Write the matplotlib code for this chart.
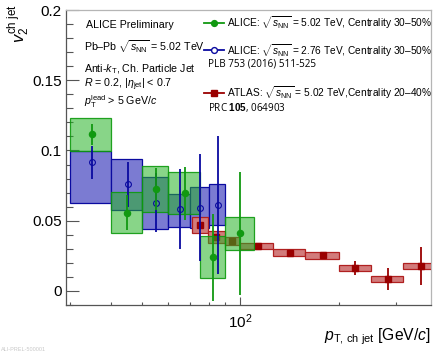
import numpy as np
import matplotlib
matplotlib.use("Agg")
import matplotlib.pyplot as plt
from matplotlib.ticker import FixedLocator, NullFormatter, FixedFormatter

plt.rcParams['font.family'] = ['Liberation Sans', 'DejaVu Sans']
plt.rcParams['mathtext.fontset'] = 'custom'
plt.rcParams['mathtext.rm'] = 'Liberation Sans'
plt.rcParams['mathtext.it'] = 'Liberation Sans:italic'
plt.rcParams['mathtext.bf'] = 'Liberation Sans:bold'

# ALICE 5.02 TeV, 30-50% (green, full circles)
a5_lo = [30, 40, 50, 60, 75, 90]
a5_hi = [40, 50, 60, 75, 90, 110]
a5_pt = [35, 45, 55, 67.5, 82.5, 100]
a5_v2 = [0.1114, 0.0557, 0.0727, 0.0695, 0.0240, 0.0410]
a5_stat = [0.0075, 0.0125, 0.0150, 0.0190, 0.0310, 0.0440]
a5_sys = [0.0115, 0.0144, 0.0163, 0.0150, 0.0148, 0.0118]

# ALICE 2.76 TeV, 30-50% (blue, open circles)
a2_lo = [30, 40, 50, 60, 70, 80]
a2_hi = [40, 50, 60, 70, 80, 90]
a2_pt = [35, 45.3, 55.1, 65.2, 75, 85.2]
a2_v2 = [0.0915, 0.0759, 0.0628, 0.0581, 0.0592, 0.0611]
a2_stat = [0.0116, 0.0160, 0.0210, 0.0285, 0.0380, 0.0490]
a2_sys_dn = [0.0291, 0.0183, 0.0189, 0.0126, 0.0146, 0.0142]
a2_sys_up = [0.0080, 0.0177, 0.0185, 0.0106, 0.0150, 0.0150]

# ATLAS 5.02 TeV, 20-40% (red, squares)
at_lo = [71, 79.5, 89.5, 100, 126, 158, 200, 251, 316]
at_hi = [79.5, 89.5, 100, 126, 158, 200, 251, 316, 398]
at_pt = [75.1, 84.4, 94.5, 113, 142, 179, 225, 283, 358]
at_v2 = [0.0469, 0.0386, 0.0358, 0.0322, 0.0272, 0.0254, 0.0166, 0.0085, 0.0176]
at_stat = [0.0015, 0.0015, 0.0015, 0.0012, 0.0012, 0.0012, 0.0050, 0.0075, 0.0136]
at_sys = [0.0055, 0.0043, 0.0029, 0.0021, 0.0024, 0.0024, 0.0022, 0.0021, 0.0021]

green = '#119911'
blue = '#0a0aa0'
red = '#9a0000'

fig = plt.figure(figsize=(4.33, 3.53), dpi=100)
ax = fig.add_axes([66/433, 48/353, 364.7/433, 295/353])
ax.set_xscale('log')

def arr(a):
    return np.asarray(a, dtype=float)

# blue sys boxes
ax.bar(arr(a2_lo), arr(a2_sys_dn) + arr(a2_sys_up), width=arr(a2_hi) - arr(a2_lo),
       bottom=arr(a2_v2) - arr(a2_sys_dn), align='edge',
       facecolor='#7b7bd2', edgecolor=blue, linewidth=0.9, zorder=2)

# red sys boxes + markers
ax.bar(arr(at_lo), 2 * arr(at_sys), width=arr(at_hi) - arr(at_lo),
       bottom=arr(at_v2) - arr(at_sys), align='edge',
       facecolor='#d27b7b', edgecolor='#b02020', linewidth=0.9, zorder=3)
ax.errorbar(at_pt, at_v2, yerr=at_stat, fmt='s', color=red, ms=4.2,
            elinewidth=1.3, capsize=0, zorder=4)

# green sys boxes (semi transparent)
ax.bar(arr(a5_lo), 2 * arr(a5_sys), width=arr(a5_hi) - arr(a5_lo),
       bottom=arr(a5_v2) - arr(a5_sys), align='edge',
       facecolor=(0.15, 0.70, 0.15, 0.55), edgecolor=(0.05, 0.6, 0.05, 0.9),
       linewidth=0.9, zorder=5)

ax.errorbar(a2_pt, a2_v2, yerr=a2_stat, fmt='o', color=blue, mfc='none',
            mec=blue, ms=4.2, mew=0.8, elinewidth=1.3, capsize=0, zorder=6)
ax.errorbar(a5_pt, a5_v2, yerr=a5_stat, fmt='o', color=green, ms=4.4,
            elinewidth=1.3, capsize=0, zorder=7)

ax.set_xlim(29.2, 383)
ax.set_ylim(-0.01, 0.2)

ax.xaxis.set_major_locator(FixedLocator([100]))
ax.xaxis.set_major_formatter(FixedFormatter([r'$10^{2}$']))
ax.xaxis.set_minor_locator(FixedLocator([30, 40, 50, 60, 70, 80, 90, 200, 300]))
ax.xaxis.set_minor_formatter(NullFormatter())
ax.yaxis.set_major_locator(FixedLocator([0, 0.05, 0.1, 0.15, 0.2]))
ax.yaxis.set_major_formatter(FixedFormatter(['0', '0.05', '0.1', '0.15', '0.2']))
ax.yaxis.set_minor_locator(FixedLocator(np.arange(-0.01, 0.2, 0.01)))

ax.tick_params(axis='both', which='both', direction='in', colors='#555555',
               labelcolor='black', labelsize=11, width=0.8)
ax.tick_params(axis='y', which='major', length=9.5, pad=3)
ax.tick_params(axis='y', which='minor', length=5)
ax.tick_params(axis='x', which='major', length=6, pad=5)
ax.tick_params(axis='x', which='minor', length=2.5)

for s in ['left', 'bottom']:
    ax.spines[s].set_color('#555555')
    ax.spines[s].set_linewidth(0.9)
for s in ['top', 'right']:
    ax.spines[s].set_color('#b5b5b5')
    ax.spines[s].set_linewidth(0.9)

# axis titles
fig.text(19/433, 1 - 4/353, r'$v_{2}^{\rm ch\ jet}$', rotation=90, ha='center',
         va='top', fontsize=12)
fig.text(431/433, 16/353, r'$p_{\rm T,\,ch\ jet}$ [GeV/$c$]', ha='right',
         va='center', fontsize=11.3)

# left text block
tx = 0.048
ts = 7.7
ax.text(tx + 0.008, 0.949, 'ALICE Preliminary', transform=ax.transAxes, fontsize=ts,
        va='center')
ax.text(tx, 0.875, r'Pb–Pb $\sqrt{s_{\rm NN}}$ = 5.02 TeV', transform=ax.transAxes,
        fontsize=ts, va='center')
ax.text(tx, 0.800, r'Anti-$k_{\rm T}$, Ch. Particle Jet', transform=ax.transAxes,
        fontsize=ts, va='center')
ax.text(tx, 0.746, r'$R$ = 0.2, |$\eta_{\rm jet}$| < 0.7', transform=ax.transAxes,
        fontsize=ts, va='center')
ax.text(tx, 0.690, r'$p_{\rm T}^{\rm lead}$ > 5 GeV/$c$', transform=ax.transAxes,
        fontsize=ts, va='center')

# legend
lx0, lx1, lxm, ltx = 0.378, 0.433, 0.406, 0.441
ls = 7.3
entries = [
    (0.956, green, 'o', green, r'ALICE: $\sqrt{s_{\rm NN}}$ = 5.02 TeV, Centrality 30–50%'),
    (0.864, blue, 'o', 'white', r'ALICE: $\sqrt{s_{\rm NN}}$ = 2.76 TeV, Centrality 30–50%'),
    (0.719, red, 's', red, r'ATLAS: $\sqrt{s_{\rm NN}}$ = 5.02 TeV,Centrality 20–40%'),
]
for y, c, m, fc, lab in entries:
    ax.plot([lx0, lx1], [y, y], color=c, lw=1.3, transform=ax.transAxes, clip_on=False)
    ax.plot([lxm], [y], marker=m, color=c, mfc=fc, ms=4.2, transform=ax.transAxes,
            clip_on=False)
    ax.text(ltx, y, lab, transform=ax.transAxes, fontsize=ls, va='center')

ax.text(0.389, 0.817, 'PLB 753 (2016) 511-525', transform=ax.transAxes,
        fontsize=7.1, va='center', family='Open Sans')
ax.text(0.389, 0.668, r'PRC $\mathbf{105}$, 064903', transform=ax.transAxes,
        fontsize=7.1, va='center', family='Open Sans')

fig.text(0.002, 0.002, 'ALI-PREL-500001', fontsize=4, color='#c8c8c8', va='bottom')

fig.savefig('out.png', dpi=100)
